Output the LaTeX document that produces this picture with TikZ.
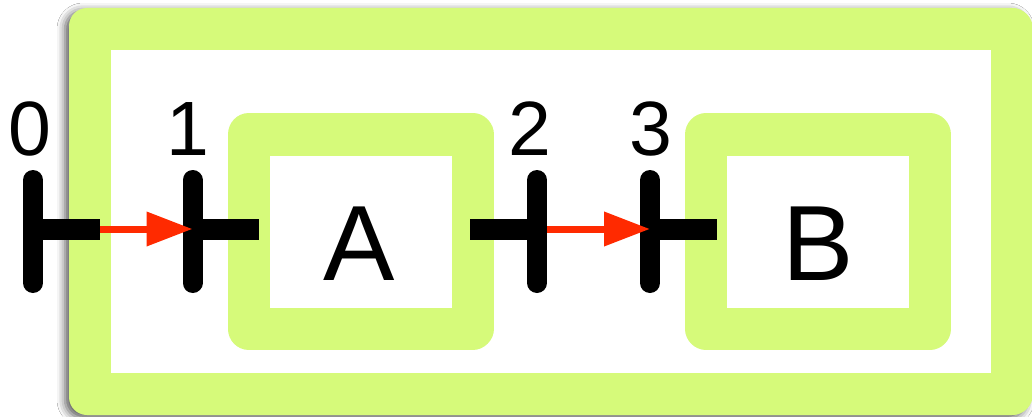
\documentclass[tikz,border=0pt]{standalone}
\usepackage{fontspec}
\setmainfont{Liberation Sans}
\usetikzlibrary{arrows.meta,shadows.blur}
\definecolor{lime}{RGB}{214,250,122}
\definecolor{arrowred}{RGB}{255,42,0}
\tikzset{
  limebox/.style={draw=lime, line width=42pt, line join=round, inner sep=0pt,
    minimum width=224pt, minimum height=194pt},
  tickbar/.style={line width=20pt, line cap=round},
  tickarm/.style={line width=21pt},
  flow/.style={draw=arrowred, line width=7pt, -{Triangle[length=46pt,width=33pt]}},
  digit/.style={font=\fontsize{77}{80}\selectfont, inner sep=0pt, anchor=base},
  boxlabel/.style={font=\fontsize{107}{110}\selectfont, inner sep=0pt, anchor=base},
}
\begin{document}
\begin{tikzpicture}[x=1pt,y=-1pt]
\useasboundingbox[fill=white] (0,0) rectangle (1032,417);

% soft drop shadow under the outer frame
\path[fill=lime, rounded corners=18pt,
  blur shadow={shadow xshift=-4pt, shadow yshift=-3pt, shadow blur radius=8pt, shadow opacity=65}]
  (69,8) rectangle (1030,415);
\fill[white] (111,50) rectangle (994,373);

% frames
\node[limebox, minimum width=922pt, minimum height=365pt] (frame) at (551,211.5) {};
\node[limebox] (boxA) at (360.5,231.5) {};
\node[limebox] (boxB) at (818,231.5) {};
\node[boxlabel] (labA) at (359,280) {A};
\node[boxlabel] (labB) at (818.5,280) {B};

% tick marks
\coordinate (t0) at (33,229);
\coordinate (t1) at (192.5,229);
\coordinate (t2) at (537,229);
\coordinate (t3) at (650,229);
\coordinate (a0) at (100,229);
\coordinate (a1) at (259,229);
\coordinate (a2) at (470,229);
\coordinate (a3) at (717,229);
\coordinate (s2) at (547,229);

\foreach \t in {t0,t1,t2,t3}{
  \draw[tickbar] ([yshift=49pt]\t) -- ([yshift=-54pt]\t);
}
\draw[tickarm] (t0) -- (a0);
\draw[tickarm] (t1) -- (a1);
\draw[tickarm] (a2) -- (t2);
\draw[tickarm] (t3) -- (a3);

% tick labels
\node[digit] (n0) at (30,155) {0};
\node[digit] (n1) at (188,155) {1};
\node[digit] (n2) at (530,155) {2};
\node[digit] (n3) at (651,155) {3};

% transitions
\draw[flow] (a0) -- (t1);
\draw[flow] (s2) -- (t3);
\end{tikzpicture}
\end{document}
